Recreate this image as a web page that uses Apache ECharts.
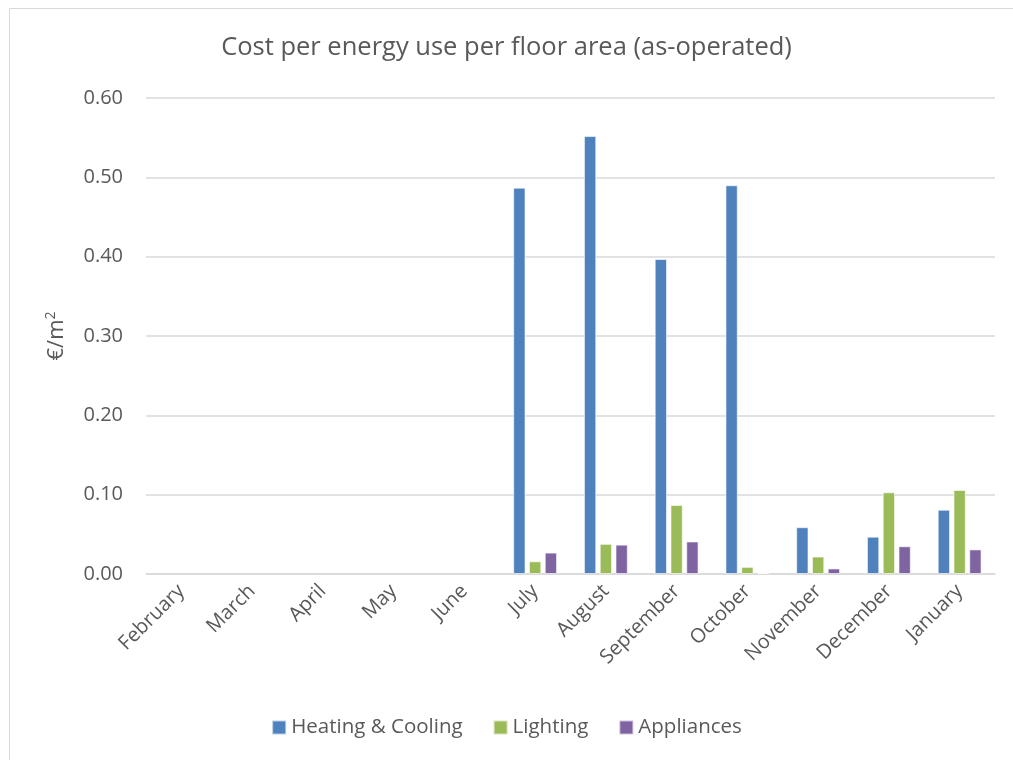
<!DOCTYPE html>
<html>
<head>
<meta charset="utf-8">
<script src="https://cdn.jsdelivr.net/npm/echarts@6/dist/echarts.min.js"></script>
<style>
  html, body { margin: 0; padding: 0; background: #fff; }
  #chart { width: 1013px; height: 760px; }
</style>
</head>
<body>
<div id="chart"></div>
<script>
var months = ['February', 'March', 'April', 'May', 'June', 'July', 'August',
    'September', 'October', 'November', 'December', 'January'];
var heatingCooling = [null, null, null, null, null, 0.487, 0.552, 0.397, 0.490, 0.059, 0.047, 0.081];
var lighting = [null, null, null, null, null, 0.016, 0.038, 0.087, 0.009, 0.022, 0.103, 0.106];
var appliances = [null, null, null, null, null, 0.027, 0.037, 0.041, 0.0013, 0.007, 0.035, 0.031];
var yTicks = [0, 0.1, 0.2, 0.3, 0.4, 0.5, 0.6];

var textColor = '#595959';
var font = '"Open Sans", "Noto Sans", sans-serif';

function barSeries(name, data, color) {
    return {
        name: name,
        type: 'bar',
        data: data,
        barGap: '28%',
        barCategoryGap: '38%',
        itemStyle: {
            color: color,
            borderColor: 'rgba(255,255,255,0.6)',
            borderWidth: 1
        }
    };
}

var option = {
    backgroundColor: '#fff',
    textStyle: { fontFamily: font, color: textColor },
    title: {
        text: 'Cost per energy use per floor area (as-operated)',
        left: 'center',
        top: 30,
        textStyle: { fontFamily: font, fontSize: 25.5, fontWeight: 'normal', color: textColor }
    },
    graphic: [{
        type: 'rect',
        shape: { x: 9.5, y: 8.5, width: 1100, height: 800 },
        style: { fill: 'none', stroke: '#d9d9d9', lineWidth: 1 },
        silent: true
    }],
    legend: {
        bottom: 17,
        left: 'center',
        itemWidth: 14,
        itemHeight: 14,
        itemGap: 30,
        icon: 'rect',
        textStyle: { fontFamily: font, fontSize: 20.5, color: textColor },
        data: ['Heating & Cooling', 'Lighting', 'Appliances']
    },
    grid: { left: 146, right: 18, top: 98, bottom: 186 },
    xAxis: {
        type: 'category',
        data: months,
        axisLine: { lineStyle: { color: '#d9d9d9', width: 1.5 } },
        axisTick: { show: false },
        axisLabel: {
            rotate: 45,
            interval: 0,
            fontFamily: font,
            fontSize: 20,
            color: textColor,
            margin: 14
        }
    },
    yAxis: {
        type: 'value',
        min: yTicks[0],
        max: yTicks[yTicks.length - 1],
        interval: 0.1,
        name: '€/m{sup|2}',
        nameLocation: 'middle',
        nameGap: 76,
        nameRotate: 90,
        nameTextStyle: {
            fontFamily: font,
            fontSize: 22,
            color: textColor,
            rich: { sup: { fontSize: 14, verticalAlign: 'top', padding: [0, 0, 12, 0], color: textColor } }
        },
        axisLine: { show: false },
        axisTick: { show: false },
        splitLine: { lineStyle: { color: '#d9d9d9', width: 1.5 } },
        axisLabel: {
            fontFamily: font,
            fontSize: 20,
            color: textColor,
            margin: 23,
            formatter: function (v) { return v.toFixed(2); }
        }
    },
    series: [
        barSeries('Heating & Cooling', heatingCooling, '#4f81bd'),
        barSeries('Lighting', lighting, '#9bbb59'),
        barSeries('Appliances', appliances, '#8064a2')
    ]
};

var myChart = echarts.init(document.getElementById('chart'));
myChart.setOption(option);
</script>
</body>
</html>
